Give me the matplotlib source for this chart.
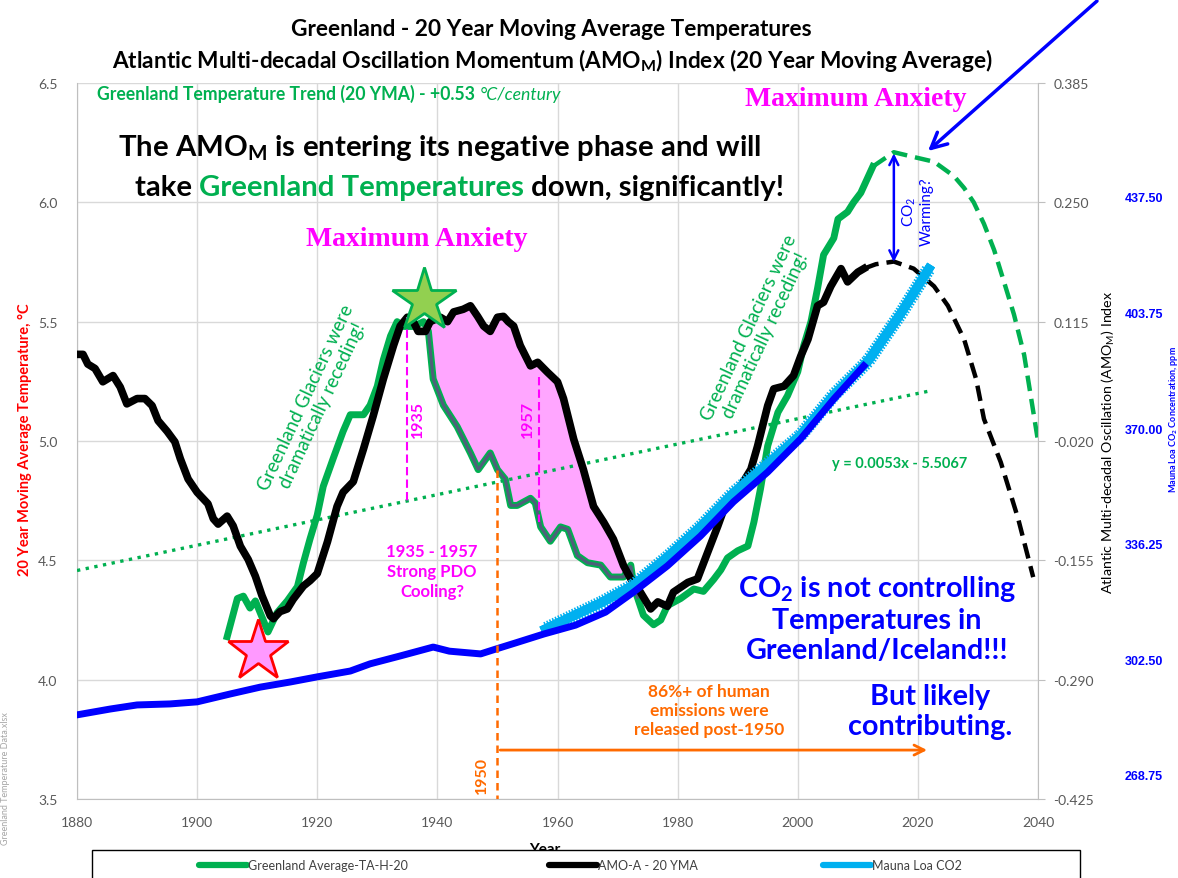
import numpy as np
import matplotlib
matplotlib.use("Agg")
import matplotlib.pyplot as plt
import matplotlib.patheffects as pe
from matplotlib.patches import Rectangle
from matplotlib.lines import Line2D
from matplotlib.ticker import FormatStrFormatter

plt.rcParams['font.family'] = ['Lato', 'DejaVu Sans']
plt.rcParams['mathtext.fontset'] = 'custom'
plt.rcParams['mathtext.rm'] = 'Lato'
plt.rcParams['mathtext.bf'] = 'Lato:bold'
plt.rcParams['mathtext.it'] = 'Lato:italic'
plt.rcParams['axes.unicode_minus'] = False

# ---- data ----
# Greenland 20 YMA temperature (deg C, left axis)
grn_years = [1905.0, 1906.7, 1907.7, 1908.8, 1909.7, 1911.0, 1911.8, 1913.3, 1915.0, 1916.7,
             1917.7, 1918.8, 1920.0, 1921.0, 1922.7, 1924.3, 1925.5, 1927.7, 1928.8, 1930.0,
             1931.0, 1932.2, 1933.3, 1934.3, 1936.0, 1937.7, 1938.5, 1939.3, 1941.0, 1943.3,
             1945.5, 1946.8, 1948.8, 1950.0, 1951.3, 1952.2, 1953.3, 1955.5, 1956.3, 1957.2,
             1958.8, 1960.5, 1961.7, 1963.3, 1965.0, 1967.2, 1968.8, 1971.0, 1972.2, 1972.7,
             1974.3, 1976.0, 1977.2, 1978.3, 1980.5, 1982.7, 1984.3, 1986.0, 1987.2, 1988.3,
             1990.0, 1991.7, 1992.7, 1993.8, 1995.0, 1996.7, 1998.3, 2000.0, 2001.0, 2002.2,
             2003.3, 2004.3, 2006.0, 2006.7, 2008.3, 2009.3, 2010.5, 2012.5]
grn_temps = [4.18, 4.34, 4.35, 4.30, 4.33, 4.25, 4.20, 4.28, 4.33, 4.39,
             4.49, 4.59, 4.69, 4.81, 4.93, 5.04, 5.11, 5.11, 5.15, 5.23,
             5.34, 5.44, 5.50, 5.48, 5.48, 5.50, 5.46, 5.26, 5.15, 5.06,
             4.95, 4.88, 4.95, 4.88, 4.84, 4.73, 4.73, 4.76, 4.74, 4.64,
             4.58, 4.64, 4.63, 4.52, 4.49, 4.48, 4.43, 4.43, 4.48, 4.39,
             4.27, 4.23, 4.25, 4.31, 4.34, 4.38, 4.37, 4.42, 4.46, 4.51,
             4.54, 4.56, 4.66, 4.80, 4.98, 5.12, 5.19, 5.29, 5.40, 5.50,
             5.64, 5.78, 5.85, 5.93, 5.96, 6.00, 6.04, 6.15]
grn_proj_years = [2012.5, 2016.0, 2019.3, 2022.7, 2026.0, 2027.7, 2029.3, 2031.0, 2032.7, 2034.3,
                  2036.0, 2037.7, 2040.0]
grn_proj_temps = [6.15, 6.21, 6.19, 6.17, 6.11, 6.06, 6.00, 5.91, 5.80, 5.67,
                  5.53, 5.36, 5.00]

# AMO-A 20 YMA (right axis)
amo_years = [1880.0, 1881.0, 1881.8, 1883.0, 1884.3, 1886.0, 1887.2, 1888.3, 1890.0, 1891.3,
             1892.5, 1893.5, 1895.0, 1896.3, 1897.2, 1898.5, 1900.0, 1901.8, 1902.7, 1903.5,
             1905.0, 1906.0, 1907.2, 1908.5, 1909.7, 1910.8, 1912.2, 1912.7, 1913.8, 1915.0,
             1916.0, 1917.7, 1918.8, 1920.0, 1921.7, 1923.3, 1924.3, 1926.0, 1927.7, 1929.3,
             1931.0, 1932.7, 1933.8, 1935.0, 1936.0, 1936.8, 1938.0, 1938.8, 1940.5, 1941.7,
             1942.7, 1944.3, 1945.5, 1946.7, 1947.7, 1948.8, 1950.0, 1951.0, 1951.8, 1952.7,
             1953.8, 1955.5, 1956.7, 1958.3, 1960.0, 1961.0, 1962.7, 1964.3, 1966.0, 1967.7,
             1969.3, 1971.0, 1972.2, 1973.8, 1975.5, 1976.7, 1978.3, 1979.3, 1981.7, 1983.3,
             1985.0, 1986.7, 1988.3, 1990.5, 1992.2, 1993.3, 1995.0, 1996.0, 1997.7, 1999.3,
             2000.5, 2001.7, 2003.3, 2004.3, 2005.5, 2007.2, 2008.3, 2010.0, 2011.0]
amo_vals = [0.078, 0.078, 0.067, 0.062, 0.047, 0.054, 0.041, 0.022, 0.028, 0.028,
            0.020, 0.003, -0.009, -0.021, -0.040, -0.063, -0.078, -0.091, -0.108, -0.114,
            -0.105, -0.116, -0.139, -0.154, -0.173, -0.195, -0.218, -0.221, -0.213, -0.210,
            -0.199, -0.184, -0.178, -0.170, -0.134, -0.094, -0.078, -0.066, -0.029, 0.008,
            0.050, 0.088, 0.110, 0.120, 0.115, 0.104, 0.104, 0.115, 0.120, 0.115,
            0.126, 0.129, 0.133, 0.121, 0.110, 0.104, 0.120, 0.121, 0.115, 0.110,
            0.088, 0.065, 0.069, 0.058, 0.047, 0.028, -0.018, -0.052, -0.094, -0.112,
            -0.131, -0.161, -0.176, -0.191, -0.210, -0.202, -0.207, -0.191, -0.180, -0.176,
            -0.146, -0.116, -0.086, -0.071, -0.052, -0.026, 0.020, 0.039, 0.042, 0.054,
            0.076, 0.095, 0.133, 0.137, 0.155, 0.175, 0.160, 0.171, 0.175]
amo_proj_years = [2011.0, 2013.0, 2016.0, 2019.3, 2022.7, 2025.0, 2027.7, 2029.7, 2031.0, 2033.8, 2036.7, 2039.2]
amo_proj_vals = [0.175, 0.180, 0.183, 0.175, 0.155, 0.133, 0.095, 0.050, 0.005, -0.044, -0.108, -0.174]

# CO2, ppm (third axis)
co2_years = [1880.0, 1885.5, 1890.0, 1895.5, 1900.0, 1905.5, 1910.5, 1915.5, 1920.0, 1925.5,
             1928.8, 1933.8, 1939.3, 1942.0, 1947.2, 1949.7, 1953.0, 1957.7, 1963.0, 1968.0,
             1972.7, 1978.3, 1983.8, 1989.3, 1995.0, 2000.5, 2006.0, 2011.0]
co2_vals = [286.3, 288.0, 289.2, 289.5, 290.1, 292.4, 294.4, 295.9, 297.4, 299.1,
            301.2, 303.5, 306.1, 304.9, 304.1, 305.5, 307.3, 309.9, 312.5, 316.3,
            322.2, 329.8, 338.5, 348.5, 357.2, 366.9, 378.5, 388.2]
ml_years = [1958.0, 1967.2, 1972.7, 1978.3, 1983.8, 1989.3, 1995.0, 2000.5, 2006.0, 2011.7, 2017.2, 2021.8]
ml_vals = [311.4, 319.0, 324.2, 332.4, 341.2, 351.1, 359.6, 368.0, 379.7, 389.6, 403.6, 416.5]

# trendline from the chart's equation
trend_slope, trend_icpt = 0.0053, -5.5067
trend_years = [1880, 2022]

x_ticks = list(range(1880, 2041, 20))
t_ticks = [3.5, 4.0, 4.5, 5.0, 5.5, 6.0, 6.5]
amo_ticks = [-0.425, -0.290, -0.155, -0.020, 0.115, 0.250, 0.385]
co2_ticks = [268.75, 302.50, 336.25, 370.00, 403.75, 437.50]

star_years = [1910.2, 1937.8]
star_temps = [4.12, 5.59]

W, H = 1178, 879
GREEN = '#00b050'
MAG = '#ff00ff'
ORANGE = '#ff6a00'
BLUE = '#0000ff'
LBLUE = '#00b0f0'
GRAY = '#595959'


def fx(x):
    return x / W


def fy(y):
    return 1 - y / H


fig = plt.figure(figsize=(W / 100, H / 100), dpi=100)
ax = fig.add_axes([fx(77), fy(800), (1038 - 77) / W, (800 - 84) / H])
ax2 = ax.twinx()
ax3 = ax.twinx()

ax.set_xlim(1880, 2040)
ax.set_ylim(3.5, 6.5)
ax2.set_ylim(-0.425, 0.385)
ax3.set_ylim(261.74, 470.78)

# everything is drawn in ax so the stacking order can be controlled,
# the AMO and CO2 series go through the twin axes' scales
amo_tr = ax2.transData
co2_tr = ax3.transData
to_t = ax2.transData - ax.transData

# pink 1935-1957 region between the two curves
yy = np.linspace(1938.5, 1973.3, 200)
blk_t = to_t.transform(np.column_stack([yy, np.interp(yy, amo_years, amo_vals)]))[:, 1]
grn_i = np.interp(yy, grn_years, grn_temps)
ax.fill_between(yy, grn_i, blk_t, color='#ffa6ff', lw=0, zorder=2)

g_line, = ax.plot(grn_years, grn_temps, color=GREEN, lw=5, solid_joinstyle='round', zorder=3)
ax.plot(yy, grn_i, color='#4e5f7a', lw=2.2, zorder=3.5)
ax.plot(yy, blk_t, color='#5a2d6e', lw=2.0, zorder=3.5)
ax.plot(grn_proj_years, grn_proj_temps, color=GREEN, lw=3.2, dashes=(3.5, 1.8), zorder=3)

ty = np.array(trend_years, dtype=float)
ax.plot(ty, trend_slope * ty + trend_icpt, color=GREEN, lw=2.4, ls=':', zorder=4)

ax.plot(amo_years, amo_vals, color='black', lw=5.5, solid_joinstyle='round',
        transform=amo_tr, zorder=5)
ax.plot(amo_proj_years, amo_proj_vals, color='black', lw=3.2, dashes=(3.5, 1.8),
        transform=amo_tr, zorder=5)

ax.plot(ml_years, ml_vals, color=LBLUE, lw=6.5, transform=co2_tr, zorder=6,
        path_effects=[pe.withTickedStroke(angle=90, spacing=2.2, length=2.0, linewidth=1.1),
                      pe.withTickedStroke(angle=-90, spacing=2.2, length=2.0, linewidth=1.1),
                      pe.Normal()])
ax.plot(co2_years, co2_vals, color=BLUE, lw=5, solid_joinstyle='round', transform=co2_tr, zorder=7)

# markers / annotation lines
ax.plot(star_years[0], star_temps[0], marker='*', ms=46, mfc='#ff99ff', mec='red', mew=2, zorder=9)
ax.plot(star_years[1], star_temps[1], marker='*', ms=48, mfc='#92d050', mec=GREEN, mew=2, zorder=9)

ax.plot([1935, 1935], [5.52, 4.75], color=MAG, lw=1.5, dashes=(4, 2), zorder=8)
ax.plot([1957, 1957], [5.27, 4.66], color=MAG, lw=1.5, dashes=(4, 2), zorder=8)
ax.plot([1950, 1950], [4.88, 3.5], color=ORANGE, lw=1.8, dashes=(3, 2), zorder=8)
ax.annotate('', xy=(2022, 3.705), xytext=(1950, 3.705),
            arrowprops=dict(arrowstyle='->', color=ORANGE, lw=2, mutation_scale=18), zorder=8)
ax.annotate('', xy=(2016, 6.205), xytext=(2016, 5.75),
            arrowprops=dict(arrowstyle='<->', color=BLUE, lw=1.8, mutation_scale=16,
                            shrinkA=0, shrinkB=0), zorder=8)

# axes styling
ax.set_xticks(x_ticks)
ax.set_yticks(t_ticks)
ax.yaxis.set_major_formatter(FormatStrFormatter('%.1f'))
ax.grid(True, color='#d9d9d9', lw=1)
ax.set_axisbelow(True)
ax.tick_params(axis='both', length=0, colors=GRAY, labelsize=10)
ax.tick_params(axis='y', pad=14)
ax.tick_params(axis='x', pad=12)
for s in ['top', 'right']:
    ax.spines[s].set_visible(False)
for s in ['left', 'bottom']:
    ax.spines[s].set_color('#bfbfbf')

ax2.set_yticks(amo_ticks)
ax2.yaxis.set_major_formatter(FormatStrFormatter('%.3f'))
ax2.tick_params(axis='y', length=5, color='#bfbfbf', labelcolor=GRAY, labelsize=10, pad=6)
for s in ['top', 'left', 'bottom']:
    ax2.spines[s].set_visible(False)
ax2.spines['right'].set_color('#bfbfbf')

ax3.set_yticks(co2_ticks)
ax3.yaxis.set_major_formatter(FormatStrFormatter('%.2f'))
ax3.tick_params(axis='y', length=0, labelcolor=BLUE, labelsize=9, pad=62.5)
for lab in ax3.get_yticklabels():
    lab.set_fontfamily('Liberation Sans')
    lab.set_fontweight('bold')
for s in ax3.spines.values():
    s.set_visible(False)

ax.set_xlim(1880, 2040)
ax.set_ylim(3.5, 6.5)

# titles and axis labels
fig.text(fx(551), fy(30), 'Greenland - 20 Year Moving Average Temperatures', ha='center', va='center',
         fontsize=16.3, fontweight='bold')
fig.text(fx(552), fy(60), r'Atlantic Multi-decadal Oscillation Momentum (AMO$_\mathbf{M}$) Index (20 Year Moving Average)',
         ha='center', va='center', fontsize=16.3, fontweight='bold')
fig.text(fx(25), fy(440), '20 Year Moving Average Temperature, \u00b0C', rotation=90, ha='center', va='center',
         color='red', fontsize=10.5, fontweight='bold')
fig.text(fx(1108), fy(442), r'Atlantic Multi-decadal Oscillation (AMO$_\mathrm{M}$) Index', rotation=90,
         ha='center', va='center', fontsize=10.3)
fig.text(fx(1173.5), fy(420), r'Mauna Loa CO$_\mathbf{2}$ Concentration, ppm', rotation=90, ha='center',
         va='center', color=BLUE, fontsize=6.5, fontweight='bold')
fig.text(fx(6), fy(779), 'Greenland Temperature Data.xlsx', rotation=90, ha='center', va='center',
         color='#a6a6a6', fontsize=6.5)
fig.text(fx(545), fy(850), 'Year', ha='center', va='center', fontsize=11, fontweight='bold')

# annotations
tt = fig.text(fx(97), fy(100), 'Greenland Temperature Trend (20 YMA) - +0.53 ', ha='left', va='baseline',
              color=GREEN, fontsize=12.7, fontweight='bold')
ax.annotate('\u00b0C/century', xy=(1, 0), xycoords=tt, ha='left', va='bottom', color=GREEN,
            fontsize=12.7, style='italic', annotation_clip=False)
fig.text(fx(440), fy(148), r'The AMO$_\mathbf{M}$ is entering its negative phase and will', ha='center',
         va='center', fontsize=21.2, fontweight='bold')
t1 = fig.text(fx(135), fy(188), 'take ', ha='left', va='center', fontsize=21.2, fontweight='bold')
t2 = ax.annotate('Greenland Temperatures', xy=(1, 0), xycoords=t1, va='bottom', ha='left',
                 fontsize=21.2, fontweight='bold', color=GREEN, annotation_clip=False)
ax.annotate(' down, significantly!', xy=(1, 0), xycoords=t2, va='bottom', ha='left',
            fontsize=21.2, fontweight='bold', annotation_clip=False)

fig.text(fx(417), fy(240), 'Maximum Anxiety', ha='center', va='center', color=MAG, fontsize=20,
         fontweight='bold', family='Liberation Serif')
fig.text(fx(856), fy(100), 'Maximum Anxiety', ha='center', va='center', color=MAG, fontsize=20,
         fontweight='bold', family='Liberation Serif')

fig.text(fx(314), fy(402), 'Greenland Glaciers were\ndramatically receding!', rotation=65, ha='center',
         va='center', color=GREEN, fontsize=13.5, linespacing=1.05)
fig.text(fx(757), fy(332), 'Greenland Glaciers were\ndramatically receding!', rotation=65, ha='center',
         va='center', color=GREEN, fontsize=13.5, linespacing=1.05)

fig.text(fx(418), fy(420), '1935', rotation=90, ha='center', va='center', color=MAG, fontsize=11.5,
         fontweight='bold')
fig.text(fx(528), fy(420), '1957', rotation=90, ha='center', va='center', color=MAG, fontsize=11.5,
         fontweight='bold')
fig.text(fx(432), fy(572), '1935 - 1957\nStrong PDO\nCooling?', ha='center', va='center', color=MAG,
         fontsize=12, fontweight='bold', linespacing=1.3)
fig.text(fx(482), fy(775), '1950', rotation=90, ha='center', va='center', color=ORANGE, fontsize=11.5,
         fontweight='bold')
fig.text(fx(709), fy(711), '86%+ of human\nemissions were\nreleased post-1950', ha='center', va='center',
         color=ORANGE, fontsize=12.5, fontweight='bold', linespacing=1.25)
fig.text(fx(900), fy(464), 'y = 0.0053x - 5.5067', ha='center', va='center', color=GREEN, fontsize=10.5,
         fontweight='bold')
fig.text(fx(877), fy(619), 'CO$_\\mathbf{2}$ is not controlling\nTemperatures in\nGreenland/Iceland!!!',
         ha='center', va='center', color=BLUE, fontsize=20.7, fontweight='bold', linespacing=1.2)
fig.text(fx(930), fy(712), 'But likely\ncontributing.', ha='center', va='center', color=BLUE, fontsize=20.7,
         fontweight='bold', linespacing=1.2)
fig.text(fx(917), fy(212), 'CO$_\\mathrm{2}$\nWarming?', rotation=90, ha='center', va='center', color=BLUE,
         fontsize=11, linespacing=1.2)

ax.annotate('', xy=(fx(928), fy(152)), xycoords='figure fraction', xytext=(fx(1097), fy(2)),
            textcoords='figure fraction',
            arrowprops=dict(arrowstyle='->', color=BLUE, lw=2.5, mutation_scale=28, shrinkA=0, shrinkB=0),
            annotation_clip=False)

# legend box
fig.add_artist(Rectangle((fx(92), -0.02), (1080 - 92) / W, fy(851) + 0.02, transform=fig.transFigure,
                         facecolor='white', edgecolor='black', lw=1, zorder=4))
leg_items = [(GREEN, 'Greenland Average-TA-H-20', 199),
             ('black', 'AMO-A - 20 YMA', 549),
             (LBLUE, 'Mauna Loa CO2', 823)]
for col, lab, xpix in leg_items:
    leg = fig.legend([Line2D([], [], color=col, lw=4.5, solid_capstyle='round')], [lab],
                     loc='center left', bbox_to_anchor=(fx(xpix), fy(866)), frameon=False, fontsize=9,
                     handlelength=3.8, handletextpad=0.1, borderpad=0, borderaxespad=0,
                     labelcolor='#404040')
    leg.set_zorder(5)

fig.savefig('out.png', dpi=100)
